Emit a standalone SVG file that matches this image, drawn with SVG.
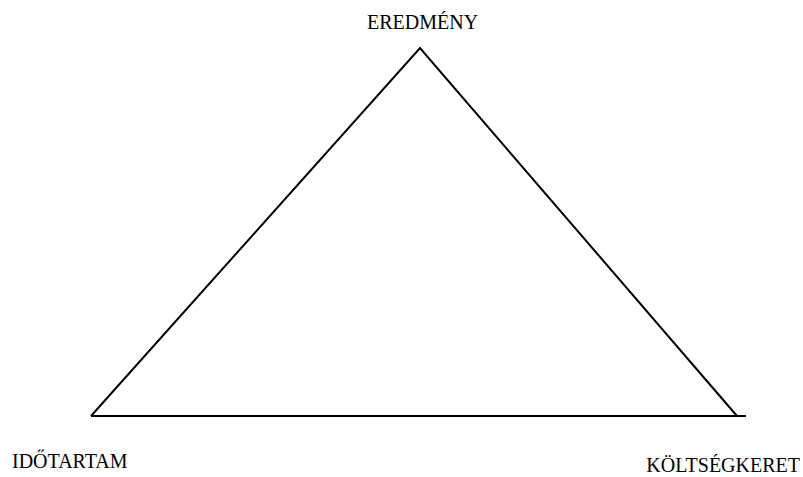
<svg xmlns="http://www.w3.org/2000/svg" width="803" height="477" viewBox="0 0 803 477">
<style>
.lbl{font-family:"Liberation Serif","Times New Roman",serif;font-size:20px;fill:#000}
.edge{stroke:#000;stroke-width:2;fill:none;stroke-linecap:butt}
</style>
<rect width="803" height="477" fill="#fff"/>
<g id="connectors">
<path class="edge" d="M91,416 L420,48 L737,416"/>
<path class="edge" d="M91,416 L746,416"/>
</g>
<g id="eredmeny"><text class="lbl" x="367" y="29">EREDMÉNY</text></g>
<g id="idotartam"><text class="lbl" x="12" y="468">IDŐTARTAM</text></g>
<g id="koltsegkeret"><text class="lbl" x="800" y="472" text-anchor="end">KÖLTSÉGKERET</text></g>
</svg>
